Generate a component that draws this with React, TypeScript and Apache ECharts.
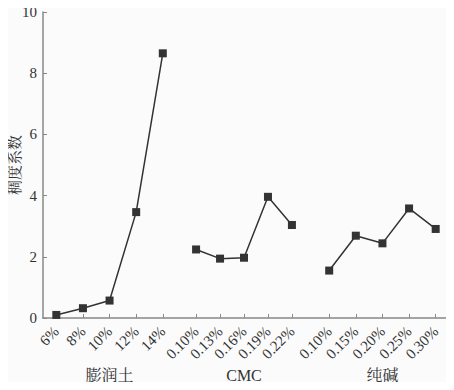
import React, { useEffect, useRef } from "react";
import * as echarts from "echarts";

const groupNames = ["膨润土", "CMC", "纯碱"];
const tickLabels = [
  "6%", "8%", "10%", "12%", "14%",
  "0.10%", "0.13%", "0.16%", "0.19%", "0.22%",
  "0.10%", "0.15%", "0.20%", "0.25%", "0.30%",
];
// x slot of each tick on the value axis (three groups with gaps between them)
const slots = [
  0.5, 1.5, 2.5, 3.5, 4.5,
  5.75, 6.65, 7.55, 8.45, 9.35,
  10.75, 11.75, 12.75, 13.75, 14.75,
];
const bentonite = [0.1, 0.32, 0.57, 3.46, 8.65];
const cmc = [2.24, 1.94, 1.97, 3.96, 3.04];
const sodaAsh = [1.55, 2.69, 2.44, 3.58, 2.91];
const yTicks = [0, 2, 4, 6, 8, 10];

const SERIF = "Times New Roman, Liberation Serif, Noto Serif CJK SC, Noto Sans CJK SC, serif";

export default function App() {
  const ref = useRef<HTMLDivElement>(null);
  useEffect(() => {
    if (!ref.current) return;
    const chart = echarts.init(ref.current, null, { renderer: "svg" });
    const groups = [bentonite, cmc, sodaAsh];
    const groupCenters = groups.map((_, g) => {
      const s = slots.slice(g * 5, g * 5 + 5);
      return (s[0] + s[4]) / 2;
    });
    const findIdx = (arr: number[], v: number) => {
      let best = 0;
      for (let i = 0; i < arr.length; i++) {
        if (Math.abs(arr[i] - v) < Math.abs(arr[best] - v)) best = i;
      }
      return best;
    };
    const series = groups.map((vals, g) => ({
      type: "line",
      data: vals.map((v, i) => [slots[g * 5 + i], v]),
      symbol: "rect",
      symbolSize: 8,
      lineStyle: { color: "#333", width: 1.5 },
      itemStyle: { color: "#333" },
      xAxisIndex: 0,
      yAxisIndex: 0,
    }));
    chart.setOption({
      animation: false,
      backgroundColor: "#fbfbfb",
      textStyle: { fontFamily: SERIF },
      grid: {
        left: 43,
        right: 1,
        top: 12,
        bottom: 72,
        containLabel: false,
        outerBoundsMode: "none",
      },
      xAxis: [
        {
          type: "value",
          min: 0,
          max: 15.4,
          axisLine: { show: true, lineStyle: { color: "#888", width: 1.5 } },
          axisTick: {
            show: true,
            inside: true,
            length: 4,
            customValues: slots,
            lineStyle: { color: "#888" },
          },
          axisLabel: {
            customValues: slots,
            rotate: 45,
            margin: 11,
            fontSize: 15,
            color: "#333",
            fontFamily: SERIF,
            formatter: (v: number) => tickLabels[findIdx(slots, v)],
          },
          splitLine: { show: false },
        },
        {
          type: "value",
          min: 0,
          max: 15.4,
          position: "bottom",
          offset: 46,
          axisLine: { show: false },
          axisTick: { show: false },
          axisLabel: {
            customValues: groupCenters,
            margin: 3,
            fontSize: 16,
            color: "#333",
            fontFamily: SERIF,
            formatter: (v: number) => groupNames[findIdx(groupCenters, v)],
          },
          splitLine: { show: false },
        },
      ],
      yAxis: {
        type: "value",
        min: yTicks[0],
        max: yTicks[yTicks.length - 1],
        interval: 2,
        name: "稠度系数",
        nameLocation: "middle",
        nameGap: 21,
        nameMoveOverlap: false,
        nameTextStyle: { fontSize: 15, color: "#333", fontFamily: SERIF },
        axisLine: { show: true, lineStyle: { color: "#888", width: 1.5 } },
        axisTick: { show: true, inside: true, length: 4, lineStyle: { color: "#888" } },
        axisLabel: { margin: 6, fontSize: 15, color: "#333", fontFamily: SERIF },
        splitLine: { show: false },
      },
      series,
    });
    return () => chart.dispose();
  }, []);
  return <div ref={ref} style={{ width: 454, height: 390, margin: -8 }} />;
}
